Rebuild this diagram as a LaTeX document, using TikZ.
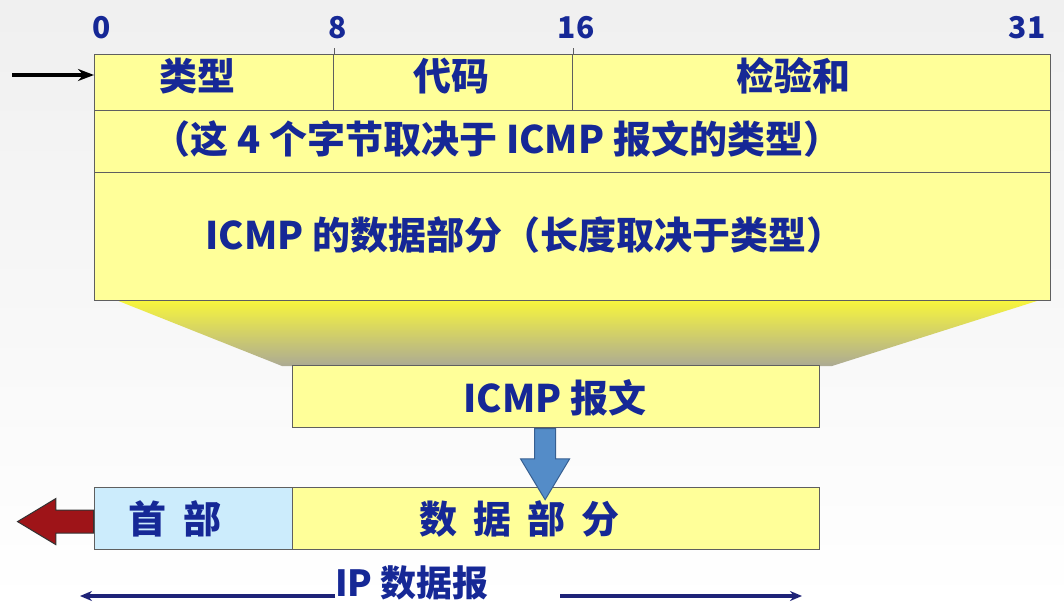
\documentclass[tikz,border=0pt]{standalone}
\usepackage{fontspec}
\setmainfont{Noto Sans CJK SC}
\usetikzlibrary{arrows.meta,positioning,calc,shapes.arrows}

\definecolor{zi}{RGB}{22,40,150}
\definecolor{huang}{RGB}{255,255,153}
\definecolor{qianlan}{RGB}{204,236,252}
\definecolor{biankuang}{RGB}{95,95,95}
\definecolor{hong}{RGB}{158,20,24}
\definecolor{lan}{RGB}{84,140,200}
\definecolor{lanbian}{RGB}{55,95,145}
\definecolor{dbtop}{RGB}{248,246,60}
\definecolor{dbbot}{RGB}{172,170,148}
\definecolor{xian}{RGB}{30,35,120}

\begin{document}
\begin{tikzpicture}[x=1pt, y=-1pt, >=Stealth,
  cell/.style={draw=biankuang, line width=1.2pt, fill=huang, inner sep=0pt, anchor=north west},
  lbl/.style={text=zi, font=\bfseries\fontsize{38}{40}\selectfont, inner sep=0pt},
  bitno/.style={text=zi, font=\bfseries\fontsize{30}{32}\selectfont, inner sep=0pt},
  blockarr/.style={single arrow, inner xsep=0pt, single arrow head indent=0pt,
    single arrow tip angle=62, anchor=tail, line width=1pt},
  lenarr/.style={-{Stealth[length=12pt,width=10pt]}, xian, line width=3.4pt}]
  \useasboundingbox (0,0) rectangle (1064,604);
  \shade[top color=black!6, bottom color=white] (0,0) rectangle (1064,604);

  % 漏斗
  \shade[top color=dbtop, bottom color=dbbot]
    (116,300) -- (1040,300) -- (832,366) -- (282,366) -- cycle;

  % ICMP 报文格式
  \node[cell, minimum width=239pt, minimum height=56pt] (leixing) at (94,54) {};
  \node[cell, minimum width=239pt, minimum height=56pt] (daima) at (333,54) {};
  \node[cell, minimum width=478pt, minimum height=56pt] (jiaoyan) at (572,54) {};
  \node[cell, minimum width=956pt, minimum height=62pt] (sizijie) at (94,110) {};
  \node[cell, minimum width=956pt, minimum height=128pt] (shuju) at (94,172) {};
  \draw[biankuang, line width=1.2pt] (leixing.north east) -- ++(0,-6);
  \draw[biankuang, line width=1.2pt] (daima.north east) -- ++(0,-6);

  \node[bitno] (b0) at (102,28) {0};
  \node[bitno] (b8) at (338,28) {8};
  \node[bitno] (b16) at (576,28) {16};
  \node[bitno] (b31) at (1027,28) {31};

  \coordinate (ru) at (12,75);
  \draw[-{Stealth[length=16pt,width=12pt]}, line width=3.2pt] (ru) -- (ru -| leixing.west);

  \node[lbl] (t1) at (197,76) {类型};
  \node[lbl] (t2) at (451,76) {代码};
  \node[lbl] (t3) at (793,76) {检验和};
  \node[lbl] (t4) at (497,139) {（这 4 个字节取决于 ICMP 报文的类型）};
  \node[lbl] (t5) at (525,235) {ICMP 的数据部分（长度取决于类型）};

  % ICMP 报文
  \node[cell, minimum width=527pt, minimum height=62pt] (icmp) at (292,365) {};
  \node[lbl] (t6) at (555,398) {ICMP 报文};

  % IP 数据报
  \node[cell, fill=qianlan, minimum width=198pt, minimum height=62pt] (hdr) at (94,487) {};
  \node[cell, minimum width=527pt, minimum height=62pt] (data) at (292,487) {};
  \node[lbl] (t7) at (175,519) {首\hspace{18pt}部};
  \node[lbl] (t8) at (519,519) {数\hspace{16pt}据\hspace{16pt}部\hspace{16pt}分};

  \node[blockarr, fill=lan, draw=lanbian, rotate=-90, inner ysep=10pt,
    single arrow head extend=14pt, minimum width=48pt, minimum height=71pt]
    (xia) at ([xshift=-11pt]icmp.south) {};
  \node[blockarr, fill=hong, draw=black!80, rotate=180, inner ysep=11pt,
    single arrow head extend=11.5pt, minimum width=45pt, minimum height=76pt]
    (chu) at ([yshift=-3pt]hdr.west) {};

  \node[lbl, font=\bfseries\fontsize{36}{38}\selectfont] (ipdg) at (412,583) {IP 数据报};
  \coordinate (dga) at (335,596);
  \coordinate (dgl) at (80,596);
  \coordinate (dgb) at (560,596);
  \coordinate (dgr) at (802,596);
  \draw[lenarr] (dga) -- (dgl);
  \draw[lenarr] (dgb) -- (dgr);
\end{tikzpicture}
\end{document}
